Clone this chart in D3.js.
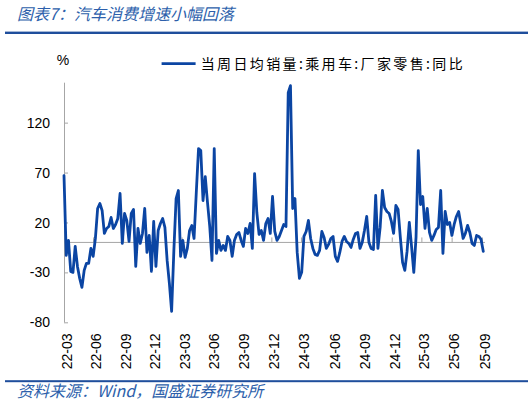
<!DOCTYPE html>
<html>
<head>
<meta charset="utf-8">
<script src="https://cdn.jsdelivr.net/npm/d3@7"></script>
<style>
  html, body { margin: 0; padding: 0; background: #fff; }
  svg { display: block; }
  text { font-family: "Liberation Sans", Arial, "Noto Sans CJK SC", sans-serif; }
  .cjk { font-family: "Noto Sans CJK SC", "Liberation Sans", sans-serif; }
</style>
</head>
<body>
<svg id="chart" width="531" height="405"></svg>
<script>
// ---- data ----
const title = "图表7：汽车消费增速小幅回落";
const source = "资料来源：Wind，国盛证券研究所";
const seriesName = "当周日均销量:乘用车:厂家零售:同比";
const unitLabel = "%";

// weekly YoY values (%), from 2022-03 to 2025-09
const values = [
  67, -13, 2, -29, -30, -4, -24, -36, -45, -28,
  -21, -21, -6, -14, 4, 34, 39, 32, 9, 14,
  16, 25, 14, 18, 24, 49, -1, 29, 22, 1,
  29, 33, -24, 14, -1, 9, 34, -10, 7, -29,
  21, -24, 12, 19, 24, 15, -18, -41, -69, -8,
  44, 52, -14, 2, -15, -6, 12, 17, 4, 50,
  94, 92, 42, 66, 40, 16, -18, 94, -11, 2,
  -8, -3, -8, 6, 2, -14, 2, 8, 10, 2,
  -4, 14, 9, 19, -6, 69, 30, 8, 12, 2,
  19, 24, 9, 46, 11, 2, 6, 12, 18, 16,
  150, 157, 34, 44, -10, -36, -30, 6, 11, 22,
  4, -6, -12, -13, -8, 11, 5, -6, -2, 4,
  6, -14, -19, -10, 1, 6, 1, -1, -5, 3,
  9, 10, -6, 0, 12, 26, 0, -6, -7, 47,
  -6, 15, 52, 35, 31, 29, 21, 9, 37, 33,
  5, -20, -28, -9, 20, -4, -30, 5, 92, 38,
  46, 14, 34, 10, 2, 7, 13, 15, 52, -11,
  31, 18, 20, 7, 18, 26, 31, 18, 4, 9,
  17, 10, -1, -3, 7, 6, 3, -9
];

// x-axis tick labels and the (fractional) observation index where each falls
const tickLabels = ["22-03","22-06","22-09","22-12","23-03","23-06","23-09","23-12",
                    "24-03","24-06","24-09","24-12","25-03","25-06","25-09"];
const tickIndex  = [0.3, 13.2, 26.6, 39.6, 52.7, 66.0, 79.3, 92.7,
                    105.9, 119.6, 133.0, 146.4, 159.6, 173.1, 186.6];

const yTicks = [-80, -30, 20, 70, 120];
const yDomain = [-80, 160];

// ---- layout ----
const svg = d3.select("#chart");
const blue = "#1f4e9c";
const lineBlue = "#0b45a3";
const axisGray = "#a6a6a6";

const plotLeft = 64, plotRight = 485, plotTop = 82.7, plotBottom = 322.3;

const x = d3.scaleLinear().domain([0, values.length - 1]).range([64, 483.3]);
const y = d3.scaleLinear().domain(yDomain).range([plotBottom, plotTop]);

// title
svg.append("text").attr("class", "cjk")
  .attr("x", 17).attr("y", 20)
  .attr("font-size", 16).attr("font-style", "italic")
  .attr("fill", "#2d5fab")
  .text(title);

// top rule
svg.append("rect").attr("x", 5).attr("y", 31.6).attr("width", 523).attr("height", 2.4).attr("fill", blue);
// bottom rule
svg.append("rect").attr("x", 5).attr("y", 380.2).attr("width", 523).attr("height", 2).attr("fill", blue);

// source
svg.append("text").attr("class", "cjk")
  .attr("x", 17).attr("y", 397)
  .attr("font-size", 16).attr("font-style", "italic")
  .attr("fill", "#2d5fab")
  .text(source);

// unit
svg.append("text")
  .attr("x", 63).attr("y", 64.5)
  .attr("text-anchor", "middle")
  .attr("font-size", 14).attr("fill", "#000")
  .text(unitLabel);

// legend
svg.append("line")
  .attr("x1", 161.6).attr("x2", 195.6).attr("y1", 63.6).attr("y2", 63.6)
  .attr("stroke", lineBlue).attr("stroke-width", 2.8);
svg.append("text").attr("class", "cjk")
  .attr("x", 200.7).attr("y", 68.6)
  .attr("font-size", 14).attr("fill", "#000")
  .attr("textLength", 262).attr("lengthAdjust", "spacing")
  .text(seriesName);

// y axis
const yAxis = d3.axisRight(y).tickValues(yTicks).tickSize(4).tickFormat("");
const gy = svg.append("g").attr("transform", `translate(${plotLeft},0)`).call(yAxis);
gy.select(".domain").attr("stroke", axisGray).attr("d", `M0.5,${plotTop}V${plotBottom}`);
gy.selectAll(".tick line").attr("stroke", axisGray);

svg.append("g").selectAll("text").data(yTicks).join("text")
  .attr("x", 50).attr("y", d => y(d))
  .attr("dy", "0.36em")
  .attr("text-anchor", "end")
  .attr("font-size", 14).attr("fill", "#000")
  .text(d => d);

// x axis on the zero line
const y0 = y(0);
svg.append("line")
  .attr("x1", plotLeft).attr("x2", plotRight).attr("y1", y0).attr("y2", y0)
  .attr("stroke", axisGray).attr("stroke-width", 1);
svg.append("g").selectAll("line").data(tickIndex).join("line")
  .attr("x1", d => x(d)).attr("x2", d => x(d))
  .attr("y1", y0).attr("y2", y0 - 5)
  .attr("stroke", axisGray).attr("stroke-width", 1);

svg.append("g").selectAll("text").data(tickLabels).join("text")
  .attr("transform", (d, i) => `translate(${x(tickIndex[i]) + 2.3},333.5) rotate(-90)`)
  .attr("dy", "0.36em")
  .attr("text-anchor", "end")
  .attr("font-size", 14).attr("fill", "#000")
  .text(d => d);

// series line
const line = d3.line().x((d, i) => x(i)).y(d => y(d));
svg.append("path")
  .datum(values)
  .attr("d", line)
  .attr("fill", "none")
  .attr("stroke", lineBlue)
  .attr("stroke-width", 2.8)
  .attr("stroke-linejoin", "round")
  .attr("stroke-linecap", "round");
</script>
</body>
</html>
